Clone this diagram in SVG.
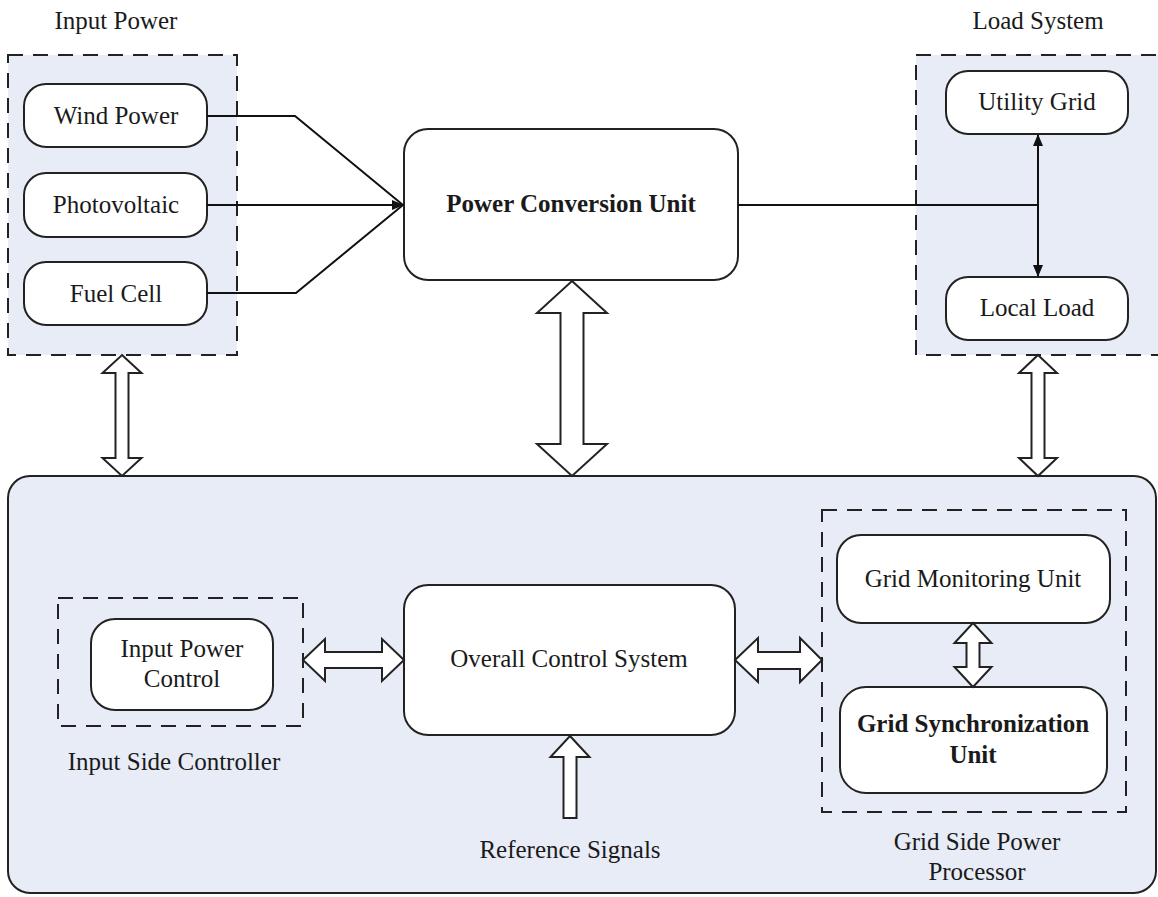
<svg xmlns="http://www.w3.org/2000/svg" width="1158" height="897" viewBox="0 0 1158 897">
<defs>
<style>
.t{font-family:"Liberation Serif","Times New Roman",serif;font-size:25px;fill:#1a1a1a;text-anchor:middle}
.b{font-weight:bold}
.node{fill:#ffffff;stroke:#222;stroke-width:2}
.dash{fill:#e8ecf7;stroke:#222;stroke-width:2;stroke-dasharray:15,10}
.dash2{fill:none;stroke:#222;stroke-width:2;stroke-dasharray:15,10}
.ln{fill:none;stroke:#111;stroke-width:2}
.ha{fill:#ffffff;stroke:#222;stroke-width:2;stroke-linejoin:miter}
</style>
<marker id="ah" viewBox="0 0 12 10" refX="11" refY="5" markerWidth="12" markerHeight="10" markerUnits="userSpaceOnUse" orient="auto-start-reverse">
<path d="M0,0 L12,5 L0,10 Z" fill="#111"/>
</marker>
</defs>
<rect width="1158" height="897" fill="#ffffff"/>

<g id="input-power">
<rect class="dash" x="8" y="55" width="229" height="300"/>
<text class="t" x="116" y="29">Input Power</text>
</g>
<g id="load-system">
<rect class="dash" x="916" y="55" width="250" height="300"/>
<text class="t" x="1038" y="29">Load System</text>
</g>
<g id="control-area">
<rect x="8" y="476" width="1148" height="417" rx="22" fill="#e8ecf7" stroke="#222" stroke-width="2"/>
</g>

<g id="wind-power">
<rect class="node" x="24" y="84" width="183" height="63" rx="22"/>
<text class="t" x="116" y="124">Wind Power</text>
</g>
<g id="photovoltaic">
<rect class="node" x="24" y="173" width="183" height="64" rx="22"/>
<text class="t" x="116" y="213">Photovoltaic</text>
</g>
<g id="fuel-cell">
<rect class="node" x="24" y="262" width="183" height="63" rx="22"/>
<text class="t" x="116" y="302">Fuel Cell</text>
</g>
<g id="power-conversion-unit">
<rect class="node" x="404" y="129" width="334" height="151" rx="24"/>
<text class="t b" x="571" y="212">Power Conversion Unit</text>
</g>
<g id="utility-grid">
<rect class="node" x="946" y="71" width="182" height="63" rx="22"/>
<text class="t" x="1037" y="110">Utility Grid</text>
</g>
<g id="local-load">
<rect class="node" x="946" y="277" width="182" height="63" rx="22"/>
<text class="t" x="1037" y="316">Local Load</text>
</g>

<g id="input-side-controller">
<rect class="dash2" x="58" y="598" width="245" height="128"/>
<text class="t" x="174" y="770">Input Side Controller</text>
</g>
<g id="input-power-control">
<rect class="node" x="91" y="619" width="182" height="91" rx="24"/>
<text class="t" x="182" y="657">Input Power</text>
<text class="t" x="182" y="687">Control</text>
</g>
<g id="overall-control-system">
<rect class="node" x="404" y="585" width="331" height="150" rx="24"/>
<text class="t" x="569" y="667">Overall Control System</text>
</g>
<g id="grid-side-power-processor">
<rect class="dash2" x="822" y="510" width="304" height="302"/>
<text class="t" x="977" y="850">Grid Side Power</text>
<text class="t" x="977" y="880">Processor</text>
</g>
<g id="grid-monitoring-unit">
<rect class="node" x="837" y="535" width="273" height="88" rx="24"/>
<text class="t" x="973" y="587">Grid Monitoring Unit</text>
</g>
<g id="grid-synchronization-unit">
<rect class="node" x="840" y="687" width="267" height="106" rx="26"/>
<text class="t b" x="973" y="732">Grid Synchronization</text>
<text class="t b" x="973" y="763">Unit</text>
</g>
<g id="reference-signals">
<text class="t" x="570" y="858">Reference Signals</text>
</g>

<g id="connectors">
<polyline class="ln" points="207,116 295,116 403,205"/>
<polyline class="ln" points="207,293 296,293 403,205"/>
<line class="ln" x1="207" y1="205" x2="403" y2="205" marker-end="url(#ah)"/>
<line class="ln" x1="738" y1="205" x2="1038" y2="205"/>
<line class="ln" x1="1038" y1="135" x2="1038" y2="276" marker-start="url(#ah)" marker-end="url(#ah)"/>
<!-- hollow double arrows -->
<polygon class="ha" points="122,355 141.5,373 128.5,373 128.5,458 141.5,458 122,476 102.5,458 115.5,458 115.5,373 102.5,373"/>
<polygon class="ha" points="572,281 607,313 583.5,313 583.5,444 607,444 572,476 537,444 560.5,444 560.5,313 537,313"/>
<polygon class="ha" points="1038,355 1057,373 1044.5,373 1044.5,458 1057,458 1038,476 1019,458 1031.5,458 1031.5,373 1019,373"/>
<polygon class="ha" points="973,623 991.5,643 979.5,643 979.5,667 991.5,667 973,687 954.5,667 966.5,667 966.5,643 954.5,643"/>
<polygon class="ha" points="303,660 325,639 325,652 382,652 382,639 404,660 382,681 382,668 325,668 325,681"/>
<polygon class="ha" points="735,660 758,638 758,652 800,652 800,638 822,660 800,682 800,669 758,669 758,682"/>
<polygon class="ha" points="570,736 589.5,757 576.5,757 576.5,818 563.5,818 563.5,757 550.5,757"/>
</g>
</svg>
